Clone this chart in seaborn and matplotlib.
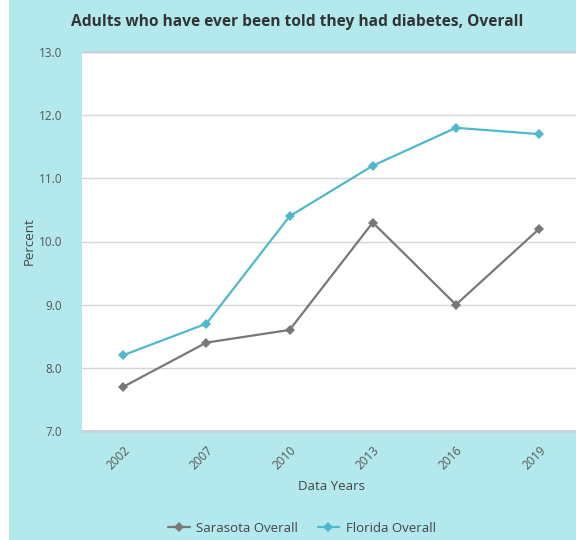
import matplotlib
matplotlib.use("Agg")
import matplotlib.pyplot as plt
import matplotlib.patches as mpatches
import seaborn as sns
import pandas as pd

years = ["2002", "2007", "2010", "2013", "2016", "2019"]
sarasota = [7.7, 8.4, 8.6, 10.3, 9.0, 10.2]
florida = [8.2, 8.7, 10.4, 11.2, 11.8, 11.7]
series_names = ["Sarasota Overall", "Florida Overall"]
y_ticks = [7.0, 8.0, 9.0, 10.0, 11.0, 12.0, 13.0]

df = pd.DataFrame({
    "Data Years": years * 2,
    "Percent": sarasota + florida,
    "Series": [series_names[0]] * len(years) + [series_names[1]] * len(years),
})

sns.set_theme(style="white")
plt.rcParams["font.family"] = ["Open Sans", "DejaVu Sans"]

BG = "#b3e9ec"
TXT = "#555555"
palette = {series_names[0]: "#787878", series_names[1]: "#4fb8cc"}

fig = plt.figure(figsize=(5.76, 5.40), dpi=100)
fig.patch.set_facecolor("white")
fig.patches.append(mpatches.Rectangle((9 / 576, 0), 1, 1, transform=fig.transFigure,
                                      facecolor=BG, edgecolor="none", zorder=-10))

ax = fig.add_axes([81.7 / 576, 1 - 431 / 540, 499 / 576, 379 / 540])
ax.set_facecolor("white")

sns.lineplot(data=df, x="Data Years", y="Percent", hue="Series", palette=palette,
             marker="D", markersize=5, markeredgewidth=0, linewidth=1.6,
             sort=False, ax=ax, legend=True)

ax.set_xlim(-0.5, 5.5)
ax.set_ylim(7.0, 13.0)
ax.set_yticks(y_ticks)
ax.set_yticklabels([f"{v:.1f}" for v in y_ticks])
ax.yaxis.grid(True, color="#d6d6d6", linewidth=1)
ax.xaxis.grid(False)
ax.set_axisbelow(True)

for side in ["left", "right"]:
    ax.spines[side].set_visible(False)
ax.spines["top"].set_color("#c8c8c8")
ax.spines["top"].set_linewidth(1)
ax.spines["bottom"].set_color("#c5d3dc")
ax.spines["bottom"].set_linewidth(2)

ax.tick_params(axis="y", length=0, pad=14, labelsize=8.5, labelcolor=TXT)
ax.set_xticks(range(len(years)))
ax.set_xticklabels(years, rotation=45, ha="right", rotation_mode="anchor")
ax.tick_params(axis="x", which="major", length=0, pad=9, labelsize=8.5, labelcolor=TXT)
ax.set_xticks([i - 0.5 for i in range(len(years) + 1)], minor=True)
ax.tick_params(axis="x", which="minor", length=8, width=1, color="#c8d0d4", direction="out")

ax.set_xlabel("Data Years", fontsize=9.5, color="#444444", labelpad=6)
ax.set_ylabel("Percent", fontsize=9.5, color="#444444", labelpad=2)

fig.text(297 / 576, 1 - 22 / 540, "Adults who have ever been told they had diabetes, Overall",
         ha="center", va="center", fontsize=11.2, fontweight="bold", color="#333333")

handles, labels = ax.get_legend_handles_labels()
ax.get_legend().remove()
fig.legend(handles, labels, loc="center", bbox_to_anchor=(302 / 576, 1 - 528 / 540),
           ncol=2, frameon=False, fontsize=9.5, labelcolor="#444444",
           handlelength=1.6, columnspacing=1.5, handletextpad=0.5)

fig.savefig("out.png", dpi=100, facecolor=fig.get_facecolor())
